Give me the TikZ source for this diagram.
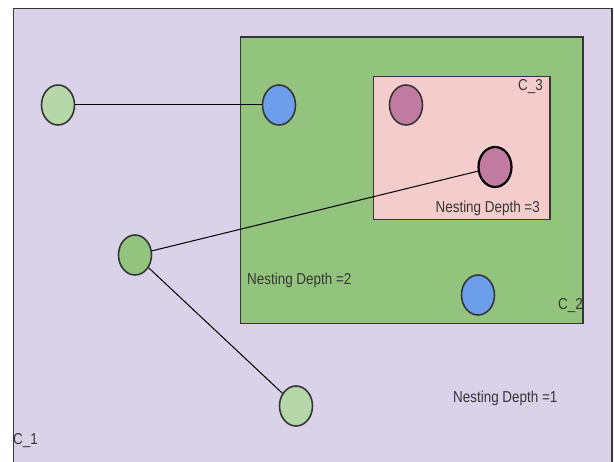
\documentclass[tikz,border=0pt]{standalone}
\usepackage{fontspec}
\setmainfont{Liberation Sans}
\newfontfamily\tagfont[FakeStretch=0.85]{Liberation Sans}
\usetikzlibrary{shapes.geometric}
\usetikzlibrary{positioning}
\definecolor{lavender}{HTML}{D9D2E9}
\definecolor{leaf}{HTML}{93C47D}
\definecolor{lightleaf}{HTML}{B6D7A8}
\definecolor{blush}{HTML}{F4CCCC}
\definecolor{sky}{HTML}{6D9EEB}
\definecolor{plum}{HTML}{C27BA0}
\definecolor{rim}{HTML}{363636}

\tikzset{
  vertex/.style={ellipse,draw=rim,line width=1.6pt,minimum width=33pt,minimum height=40pt,inner sep=0pt},
  container/.style={draw=rim,line width=1.8pt},
  tag/.style={font=\tagfont\fontsize{15.8}{17}\selectfont,text=rim,inner sep=0pt},
  edge/.style={draw=black,line width=1pt}
}

\begin{document}
\begin{tikzpicture}[x=1pt,y=-1pt]

  \useasboundingbox (0,0) rectangle (614,462);
  \clip (0,0) rectangle (614,462);

  % containers, outermost first
  \draw[container,fill=lavender] (13.5,8.5) rectangle (612,480);
  \draw[container,fill=leaf] (240.5,37) rectangle (583,323.5);
  \draw[container,fill=blush] (373.5,76.5) rectangle (550,219.5);

  \node[tag,anchor=east] (c3) at (543,87) {C\_3};
  \node[tag,anchor=east] (depth3) at (540,208) {Nesting Depth =3};
  \node[tag,anchor=west] (depth2) at (247,280) {Nesting Depth =2};
  \node[tag,anchor=east] (c2) at (583,306) {C\_2};
  \node[tag,anchor=west] (depth1) at (453,398) {Nesting Depth =1};
  \node[tag,anchor=west] (c1) at (13,441) {C\_1};

  % vertices
  \node[vertex,fill=lightleaf] (a) at (58,105) {};
  \node[vertex,fill=sky] (b) at (279,105) {};
  \node[vertex,fill=plum] (p) at (406,105) {};
  \node[vertex,fill=plum,draw=black,line width=2.2pt] (q) at (495,167) {};
  \node[vertex,fill=leaf] (m) at (135,255) {};
  \node[vertex,fill=sky] (r) at (478,295) {};
  \node[vertex,fill=lightleaf] (s) at (296,406) {};

  % Edges
  \draw[edge] (a) -- (b);
  \draw[edge] (m) -- (q);
  \draw[edge] (m) -- (s);

\end{tikzpicture}
\end{document}
